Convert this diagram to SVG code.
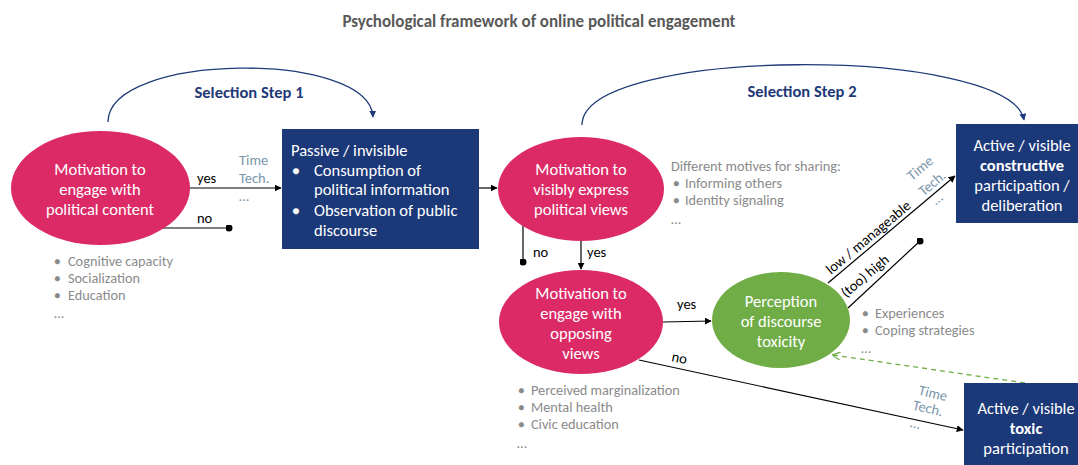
<svg xmlns="http://www.w3.org/2000/svg" width="1078" height="465" viewBox="0 0 1078 465">
<defs>
<style>
text{font-family:Carlito,Lato,"Liberation Sans",sans-serif}
.title{font-size:17px;font-weight:bold;fill:#595959}
.step{font-size:16.5px;font-weight:bold;fill:#1f3a78}
.nt{font-size:16.5px;fill:#ffffff;text-anchor:middle}
.bt{font-size:16.5px;fill:#ffffff}
.bl{font-size:13px;fill:#ffffff}
.lab{font-size:14.5px;fill:#000000}
.gray{font-size:14.3px;fill:#8a8a8a}
.gb{font-size:11px;fill:#8a8a8a}
.tt{font-size:14.5px;fill:#7a96ab}
.ttc{font-size:14.5px;fill:#7a96ab;text-anchor:middle}
.pink{fill:#dc2a66}
.green{fill:#70ad47}
.navy{fill:#1b3878}
.ln{stroke:#000;stroke-width:1.2;fill:none}
.arc{stroke:#1f3a78;stroke-width:1.3;fill:none}
</style>
<marker id="ah" viewBox="0 0 10 10" refX="9" refY="5" markerWidth="7" markerHeight="7" orient="auto" markerUnits="userSpaceOnUse"><path d="M0,0 L10,5 L0,10 z" fill="#000"/></marker>
<marker id="ahn" viewBox="0 0 10 10" refX="9" refY="5" markerWidth="7" markerHeight="7" orient="auto" markerUnits="userSpaceOnUse"><path d="M0,0 L10,5 L0,10 z" fill="#1f3a78"/></marker>
<marker id="ahg" viewBox="0 0 10 10" refX="9" refY="5" markerWidth="8" markerHeight="8" orient="auto" markerUnits="userSpaceOnUse"><path d="M0,0 L10,5 L0,10" fill="none" stroke="#70ad47" stroke-width="1.5"/></marker>
<marker id="dot" viewBox="0 0 10 10" refX="5" refY="5" markerWidth="7" markerHeight="7" markerUnits="userSpaceOnUse"><circle cx="5" cy="5" r="5" fill="#000"/></marker>
</defs>
<rect width="1078" height="465" fill="#fff"/>
<text class="title" x="539" y="27" text-anchor="middle">Psychological framework of online political engagement</text>

<g id="connectors">
<path class="arc" d="M108,122 C108,52 370,50 373,117" marker-end="url(#ahn)"/>
<text class="step" x="249" y="98" text-anchor="middle">Selection Step 1</text>
<path class="arc" d="M582,125 C582,46 1010,45 1024,120" marker-end="url(#ahn)"/>
<text class="step" x="802" y="97" text-anchor="middle">Selection Step 2</text>

<line class="ln" x1="190" y1="188" x2="281" y2="188" marker-end="url(#ah)"/>
<text class="lab" x="197" y="183">yes</text>
<text class="tt" x="239" y="165">Time</text>
<text class="tt" x="239" y="183">Tech.</text>
<text class="tt" x="239" y="201">…</text>
<line class="ln" x1="163" y1="228" x2="229" y2="228" marker-end="url(#dot)"/>
<text class="lab" x="197" y="223">no</text>

<line class="ln" x1="479" y1="188" x2="497" y2="188" marker-end="url(#ah)"/>

<line class="ln" x1="523" y1="225" x2="523" y2="262" marker-end="url(#dot)"/>
<text class="lab" x="533" y="257">no</text>
<line class="ln" x1="581" y1="241" x2="581" y2="269" marker-end="url(#ah)"/>
<text class="lab" x="587" y="257">yes</text>

<line class="ln" x1="663" y1="322" x2="711" y2="321" marker-end="url(#ah)"/>
<text class="lab" x="677" y="309">yes</text>

<line class="ln" x1="639" y1="360" x2="963" y2="430" marker-end="url(#ah)"/>
<text class="lab" transform="translate(671,361) rotate(12)">no</text>
<text class="ttc" transform="translate(933,393) rotate(13)" y="5">Time</text>
<text class="ttc" transform="translate(928,408) rotate(13)" y="5">Tech.</text>
<text class="ttc" transform="translate(915,425) rotate(13)" y="3">…</text>

<line class="ln" x1="828" y1="283" x2="955" y2="176" marker-end="url(#ah)"/>
<text class="lab" transform="translate(831,275) rotate(-40)">low / manageable</text>
<line class="ln" x1="848" y1="308" x2="920" y2="241" marker-end="url(#dot)"/>
<text class="lab" transform="translate(846,298) rotate(-40)">(too) high</text>
<text class="ttc" transform="translate(920,168) rotate(-40)" y="5">Time</text>
<text class="ttc" transform="translate(932,183) rotate(-40)" y="5">Tech.</text>
<text class="ttc" transform="translate(938,200) rotate(-40)" y="3">…</text>

<line x1="1025" y1="383" x2="833" y2="355" stroke="#70ad47" stroke-width="1.3" stroke-dasharray="5,4" marker-end="url(#ahg)"/>
</g>

<g id="n-motivation-engage">
<ellipse class="pink" cx="100.5" cy="188" rx="89.5" ry="57"/>
<text class="nt" x="100" y="175">Motivation to</text>
<text class="nt" x="100" y="195">engage with</text>
<text class="nt" x="100" y="215">political content</text>
</g>
<g id="n-factors-1">
<text class="gb" x="54" y="265">●</text><text class="gray" x="68" y="266">Cognitive capacity</text>
<text class="gb" x="54" y="282">●</text><text class="gray" x="68" y="283">Socialization</text>
<text class="gb" x="54" y="299">●</text><text class="gray" x="68" y="300">Education</text>
<text class="gray" x="54" y="318">…</text>
</g>

<g id="n-passive">
<rect class="navy" x="282" y="129" width="197" height="120"/>
<text class="bt" x="291" y="156">Passive / invisible</text>
<text class="bl" x="292" y="175">●</text><text class="bt" x="314" y="176">Consumption of</text>
<text class="bt" x="314" y="195">political information</text>
<text class="bl" x="292" y="215">●</text><text class="bt" x="314" y="216">Observation of public</text>
<text class="bt" x="314" y="236">discourse</text>
</g>

<g id="n-motivation-express">
<ellipse class="pink" cx="581" cy="189" rx="83" ry="52"/>
<text class="nt" x="581" y="175">Motivation to</text>
<text class="nt" x="581" y="195">visibly express</text>
<text class="nt" x="581" y="215">political views</text>
</g>
<g id="n-motives">
<text class="gray" x="671" y="171">Different motives for sharing:</text>
<text class="gb" x="673" y="187">●</text><text class="gray" x="685" y="188">Informing others</text>
<text class="gb" x="673" y="204">●</text><text class="gray" x="685" y="205">Identity signaling</text>
<text class="gray" x="671" y="224">…</text>
</g>

<g id="n-motivation-opposing">
<ellipse class="pink" cx="581" cy="322" rx="82" ry="52"/>
<text class="nt" x="581" y="299">Motivation to</text>
<text class="nt" x="581" y="319">engage with</text>
<text class="nt" x="581" y="339">opposing</text>
<text class="nt" x="581" y="359">views</text>
</g>
<g id="n-factors-3">
<text class="gb" x="518" y="394">●</text><text class="gray" x="531" y="395">Perceived marginalization</text>
<text class="gb" x="518" y="411">●</text><text class="gray" x="531" y="412">Mental health</text>
<text class="gb" x="518" y="428">●</text><text class="gray" x="531" y="429">Civic education</text>
<text class="gray" x="517" y="448">…</text>
</g>

<g id="n-toxicity">
<ellipse class="green" cx="781" cy="320" rx="69" ry="48"/>
<text class="nt" x="781" y="307">Perception</text>
<text class="nt" x="781" y="327">of discourse</text>
<text class="nt" x="781" y="347">toxicity</text>
</g>
<g id="n-factors-4">
<text class="gb" x="862" y="317">●</text><text class="gray" x="875" y="318">Experiences</text>
<text class="gb" x="862" y="334">●</text><text class="gray" x="875" y="335">Coping strategies</text>
<text class="gray" x="861" y="353">…</text>
</g>

<g id="n-constructive">
<rect class="navy" x="956" y="124" width="122" height="99"/>
<text class="nt" x="1022" y="151">Active / visible</text>
<text class="nt" x="1022" y="171" font-weight="bold">constructive</text>
<text class="nt" x="1022" y="191">participation /</text>
<text class="nt" x="1022" y="211">deliberation</text>
</g>

<g id="n-toxic">
<rect class="navy" x="964" y="383" width="114" height="82"/>
<text class="nt" x="1026" y="414">Active / visible</text>
<text class="nt" x="1026" y="434" font-weight="bold">toxic</text>
<text class="nt" x="1026" y="454">participation</text>
</g>
</svg>
